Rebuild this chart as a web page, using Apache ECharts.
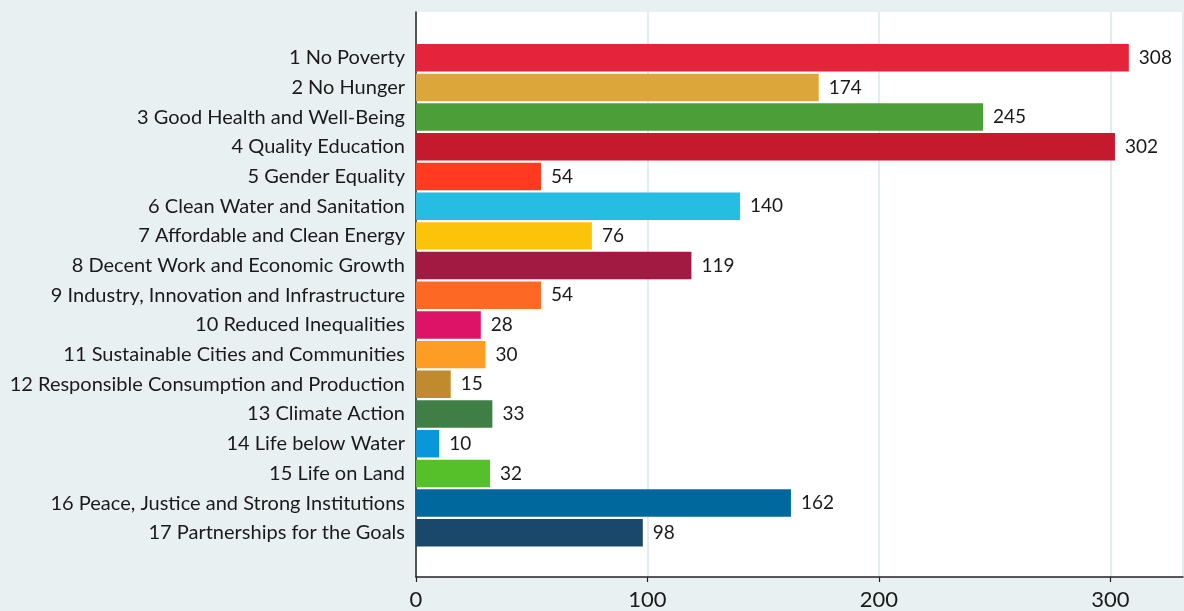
<!DOCTYPE html>
<html>
<head>
<meta charset="utf-8">
<script src="https://cdn.jsdelivr.net/npm/echarts@6/dist/echarts.min.js"></script>
<style>
html,body{margin:0;padding:0;background:#e9f0f2;}
#chart{width:1184px;height:611px;}
</style>
</head>
<body>
<div id="chart"></div>
<script>
const categories = [
  "1 No Poverty",
  "2 No Hunger",
  "3 Good Health and Well-Being",
  "4 Quality Education",
  "5 Gender Equality",
  "6 Clean Water and Sanitation",
  "7 Affordable and Clean Energy",
  "8 Decent Work and Economic Growth",
  "9 Industry, Innovation and Infrastructure",
  "10 Reduced Inequalities",
  "11 Sustainable Cities and Communities",
  "12 Responsible Consumption and Production",
  "13 Climate Action",
  "14 Life below Water",
  "15 Life on Land",
  "16 Peace, Justice and Strong Institutions",
  "17 Partnerships for the Goals"
];
const values = [308, 174, 245, 302, 54, 140, 76, 119, 54, 28, 30, 15, 33, 10, 32, 162, 98];
const colors = ["#E5243B","#DDA63A","#4C9F38","#C5192D","#FF3A21","#26BDE2","#FCC30B","#A21942","#FD6925","#DD1367","#FD9D24","#BF8B2E","#3F7E44","#0A97D9","#56C02B","#00689D","#19486A"];
const xTicks = [0, 100, 200, 300];

const FONT = "Lato";
const XMAX = 331.4;

const chart = echarts.init(document.getElementById('chart'), null, {renderer: 'canvas'});
chart.setOption({
  backgroundColor: '#e9f0f2',
  animation: false,
  textStyle: {fontFamily: FONT},
  grid: [
    {left: 416, top: 12, right: 1, bottom: 33, show: true, backgroundColor: '#ffffff', borderWidth: 0, containLabel: false},
    {left: 416, top: 42.9, right: 1, height: 504.7, containLabel: false}
  ],
  xAxis: [
    {
      gridIndex: 0, type: 'value', min: 0, max: XMAX, interval: 100,
      axisLine: {show: true, lineStyle: {color: '#222', width: 1.5}},
      axisTick: {show: true, length: 5, lineStyle: {color: '#222', width: 1.2}},
      axisLabel: {fontSize: 22, color: '#1a1a1a', margin: 12, showMaxLabel: false, fontFamily: FONT,
        formatter: function(v){ return xTicks.indexOf(v) >= 0 ? String(v) : ''; }},
      splitLine: {show: true, lineStyle: {color: '#e3ecf0', width: 2}}
    },
    {
      gridIndex: 1, type: 'value', min: 0, max: XMAX,
      show: false, splitLine: {show: false}
    }
  ],
  yAxis: [
    {
      gridIndex: 0, type: 'value', min: 0, max: 1,
      axisLine: {show: true, onZero: false, lineStyle: {color: '#222', width: 1.5}},
      axisTick: {show: false}, axisLabel: {show: false}, splitLine: {show: false}
    },
    {
      gridIndex: 1, type: 'category', data: categories, inverse: true,
      axisLine: {show: false}, axisTick: {show: false}, splitLine: {show: false},
      axisLabel: {fontSize: 20, color: '#1a1a1a', margin: 11, fontFamily: FONT, padding: [0, 0, 8, 0]}
    }
  ],
  series: [{
    type: 'bar',
    xAxisIndex: 1, yAxisIndex: 1,
    data: values.map((v, i) => ({value: v, itemStyle: {color: colors[i]}})),
    barWidth: '92.6%',
    label: {show: true, position: 'right', distance: 10, fontSize: 19, color: '#1a1a1a', fontFamily: FONT, padding: [0, 0, 3, 0]}
  }]
});
</script>
</body>
</html>
